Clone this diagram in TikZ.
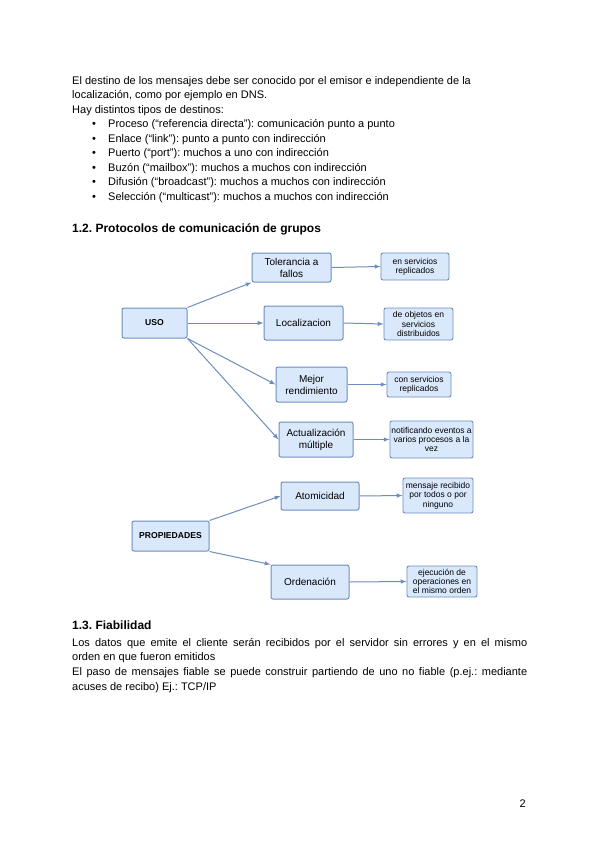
\documentclass[tikz,border=0pt]{standalone}
\usepackage{fontspec}
\setmainfont{Liberation Sans}
\usetikzlibrary{arrows}
\frenchspacing

\definecolor{boxfill}{HTML}{DAE8FC}
\definecolor{boxline}{HTML}{6C8EBF}

\begin{document}
\begin{tikzpicture}[x=1pt,y=-1pt,>=latex,
  txt/.style={anchor=base west,inner sep=0pt,font=\fontsize{11}{13}\selectfont},
  head/.style={anchor=base west,inner sep=0pt,font=\fontsize{12}{14}\selectfont\bfseries},
  box/.style={draw=boxline,fill=boxfill,line width=1pt,rounded corners=2pt,
    align=center,inner sep=1pt,font=\fontsize{10}{12}\selectfont},
  note/.style={box,line width=0.9pt,font=\fontsize{8.5}{9.3}\selectfont},
  root/.style={box,font=\fontsize{8.6}{10}\selectfont\bfseries},
  edge/.style={->,draw=boxline,line width=1pt}]
\useasboundingbox (0,0) rectangle (600,848);

% texto de arriba
\node[txt] (t1) at (72,84.3) {El destino de los mensajes debe ser conocido por el emisor e independiente de la};
\node[txt] (t2) at (72,98.8) {localización, como por ejemplo en DNS.};
\node[txt] (t3) at (72,113.3) {Hay distintos tipos de destinos:};
\foreach \y/\t [count=\i] in {127.8/{Proceso (“referencia directa”): comunicación punto a punto},
    142.3/{Enlace (“link”): punto a punto con indirección},
    156.8/{Puerto (“port”): muchos a uno con indirección},
    171.3/{Buzón (“mailbox”): muchos a muchos con indirección},
    185.8/{Difusión (“broadcast”): muchos a muchos con indirección},
    200.3/{Selección (“multicast”): muchos a muchos con indirección}}{
  \node[txt] (b\i) at (92,\y) {•};
  \node[txt] (l\i) at (108,\y) {\t};
}

\node[head] (h12) at (72,232.3) {1.2. Protocolos de comunicación de grupos};

% USO
\node[root, minimum width=65pt, minimum height=30pt] (U) at (154.5,323) {USO};
\node[box, minimum width=79pt, minimum height=29pt] (U1) at (291.5,267.5) {Tolerancia a\\fallos};
\node[box, minimum width=79pt, minimum height=34pt] (U2) at (303.5,323) {Localizacion};
\node[box, minimum width=71pt, minimum height=35pt] (U3) at (311.5,384.5) {Mejor\\rendimiento};
\node[box, minimum width=74pt, minimum height=35pt] (U4) at (316,439.5) {Actualización\\múltiple};
\node[note, minimum width=68pt, minimum height=27pt] (U1n) at (415,266.5) {en servicios\\replicados};
\node[note, minimum width=69pt, minimum height=32pt] (U2n) at (418.5,324) {de objetos en\\servicios\\distribuidos};
\node[note, minimum width=64pt, minimum height=25pt] (U3n) at (419,384.5) {con servicios\\replicados};
\node[note, minimum width=83pt, minimum height=37pt] (U4n) at (431.5,439.5) {notificando eventos a\\varios procesos a la\\vez};

\draw[edge] (U.north east) -- (U1.south west);
\draw[edge] (U.east) -- (U2.west);
\draw[edge] (U.south east) -- (U3.west);
\draw[edge] (U.south east) -- (U4.west);
\foreach \n in {U1,U2,U3,U4}
  \draw[edge] (\n.east) -- (\n n.west);

% PROPIEDADES
\node[root, minimum width=77pt, minimum height=30pt] (P) at (170.5,536) {PROPIEDADES};
\node[box, minimum width=78pt, minimum height=28pt] (P1) at (320,496) {Atomicidad};
\node[box, minimum width=78pt, minimum height=34pt] (P2) at (310,582) {Ordenación};
\node[note, minimum width=70pt, minimum height=35pt] (P1n) at (438,495.5) {mensaje recibido\\por todos o por\\ninguno};
\node[note, minimum width=70pt, minimum height=31pt] (P2n) at (442,581.5) {ejecución de\\operaciones en\\el mismo orden};

\draw[edge] (P.north east) -- (P1.west);
\draw[edge] (P.south east) -- (P2.north west);
\foreach \n in {P1,P2}
  \draw[edge] (\n.east) -- (\n n.west);

% texto de abajo
\node[head] (h13) at (72,629.3) {1.3. Fiabilidad};
\node[txt] (p1) at (72,646) {\makebox[455pt][s]{Los datos que emite el cliente serán recibidos por el servidor sin errores y en el mismo}};
\node[txt] (p2) at (72,660.5) {orden en que fueron emitidos};
\node[txt] (p3) at (72,675.5) {\makebox[455pt][s]{El paso de mensajes fiable se puede construir partiendo de uno no fiable (p.ej.: mediante}};
\node[txt] (p4) at (72,690) {acuses de recibo) Ej.: TCP/IP};

\node[txt] (pg) at (519.5,807) {2};
\end{tikzpicture}
\end{document}
